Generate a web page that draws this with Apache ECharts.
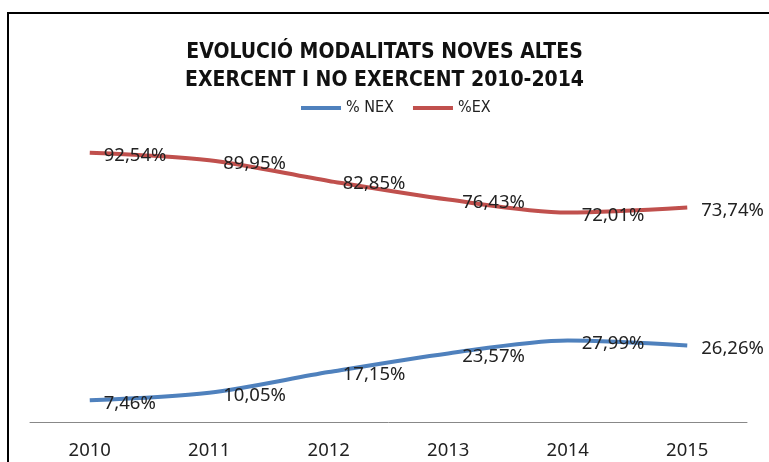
<!DOCTYPE html>
<html>
<head>
<meta charset="utf-8">
<script src="https://cdn.jsdelivr.net/npm/echarts@6/dist/echarts.min.js"></script>
<style>
  html, body { margin: 0; padding: 0; background: #fff; }
  #chart { width: 769px; height: 462px; }
</style>
</head>
<body>
<div id="chart"></div>
<script>
var years = ['2010', '2011', '2012', '2013', '2014', '2015'];
var nex = [7.46, 10.05, 17.15, 23.57, 27.99, 26.26];
var ex = [92.54, 89.95, 82.85, 76.43, 72.01, 73.74];

var chartDom = document.getElementById('chart');
var myChart = echarts.init(chartDom);
var option;

var fmt = function (p) {
  return p.value.toFixed(2).replace('.', ',') + '%';
};
var labelStyle = {
  show: true,
  position: 'right',
  distance: 14,
  offset: [0, 3],
  fontFamily: 'Noto Sans',
  fontSize: 18.5,
  color: '#222',
  formatter: fmt
};

option = {
  animation: false,
  title: {
    text: 'EVOLUCIÓ MODALITATS NOVES ALTES\nEXERCENT I NO EXERCENT 2010-2014',
    left: 'center',
    top: 39,
    padding: 0,
    textStyle: {
      fontFamily: 'DejaVu Sans Condensed',
      fontWeight: 'bold',
      fontSize: 21,
      lineHeight: 28,
      color: '#111'
    }
  },
  legend: {
    left: 296,
    top: 95,
    icon: 'rect',
    itemWidth: 40,
    itemHeight: 4,
    itemGap: 19,
    textStyle: { fontFamily: 'DejaVu Sans Condensed', fontSize: 16, color: '#222' },
    data: ['% NEX', '%EX']
  },
  grid: { left: 30, right: 22, top: 131, bottom: 40 },
  xAxis: {
    type: 'category',
    data: years,
    axisLine: { lineStyle: { color: '#888', width: 1 } },
    axisTick: { show: false },
    axisLabel: { fontFamily: 'Noto Sans', fontSize: 18.5, color: '#222', margin: 19 }
  },
  yAxis: {
    type: 'value',
    min: 0,
    max: 100,
    show: false
  },
  graphic: [
    {
      type: 'polyline',
      shape: { points: [[769, 13], [8, 13], [8, 462]] },
      style: { stroke: '#000', lineWidth: 2, fill: null }
    }
  ],
  series: [
    {
      name: '% NEX',
      type: 'line',
      data: nex,
      smooth: 0.3,
      symbol: 'circle',
      symbolSize: 0,
      lineStyle: { color: '#4F81BD', width: 4 },
      itemStyle: { color: '#4F81BD' },
      label: labelStyle
    },
    {
      name: '%EX',
      type: 'line',
      data: ex,
      smooth: 0.3,
      symbol: 'circle',
      symbolSize: 0,
      lineStyle: { color: '#C0504D', width: 4 },
      itemStyle: { color: '#C0504D' },
      label: labelStyle
    }
  ]
};

option && myChart.setOption(option);
</script>
</body>
</html>
